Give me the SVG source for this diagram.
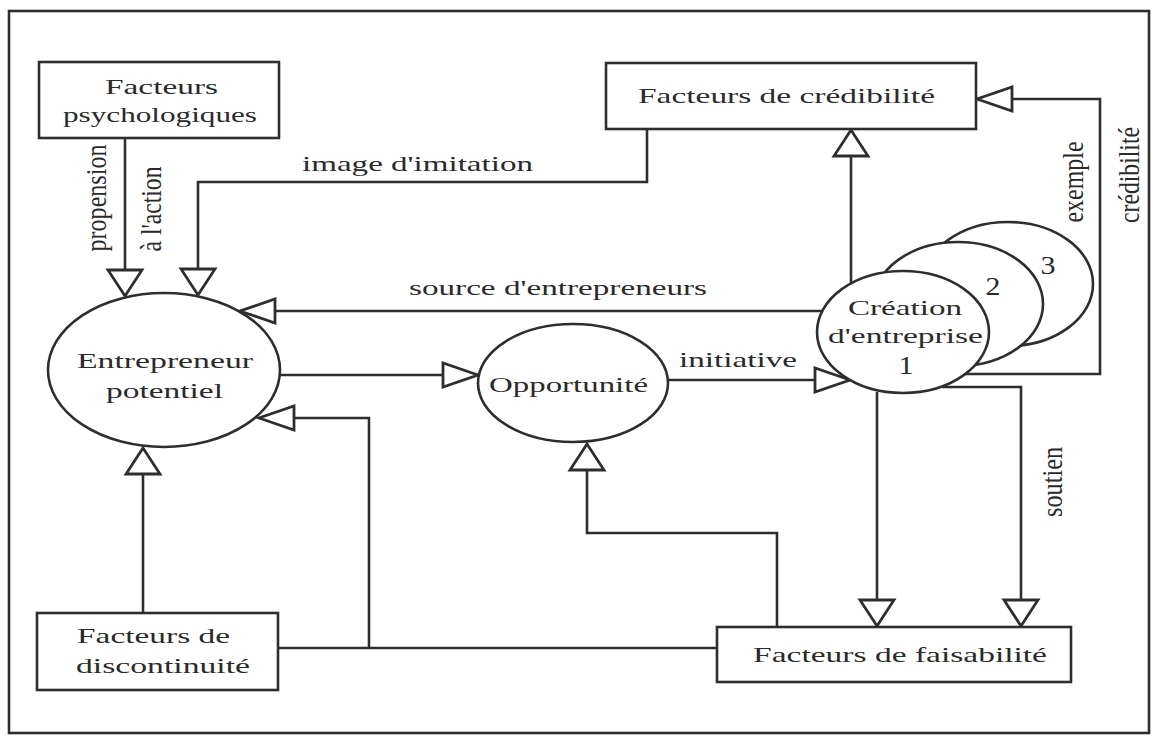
<svg xmlns="http://www.w3.org/2000/svg" width="1153" height="736" viewBox="0 0 1153 736">
<style>
.ln{fill:none;stroke:#2e2e2e;stroke-width:2.6}
.nd{fill:#fff;stroke:#2e2e2e;stroke-width:2.6}
.ah{fill:#fff;stroke:#2e2e2e;stroke-width:2.8;stroke-linejoin:miter}
text{font-family:"Liberation Serif","Times New Roman",serif;font-size:22px;fill:#2a2a2a}
.dg{font-size:25px}
</style>
<defs>
<marker id="mh" markerUnits="userSpaceOnUse" refX="0" refY="0" markerWidth="1" markerHeight="1" orient="auto" style="overflow:visible">
<path class="ah" d="M0,0 L-35,-12 L-35,12 Z"/>
</marker>
<marker id="mv" markerUnits="userSpaceOnUse" refX="0" refY="0" markerWidth="1" markerHeight="1" orient="auto" style="overflow:visible">
<path class="ah" d="M0,0 L-26,-17 L-26,17 Z"/>
</marker>
</defs>
<rect x="0" y="0" width="1153" height="736" fill="#fff"/>
<rect x="9" y="11" width="1140" height="722" class="ln"/>

<g id="connectors">
<path class="ln" d="M125,138 V296" marker-end="url(#mv)"/>
<path class="ln" d="M647,129 V182 H198 V295" marker-end="url(#mv)"/>
<path class="ln" d="M824,311 H240" marker-end="url(#mh)"/>
<path class="ln" d="M280,375 H478" marker-end="url(#mh)"/>
<path class="ln" d="M668,380 H850" marker-end="url(#mh)"/>
<path class="ln" d="M143,613 V448" marker-end="url(#mv)"/>
<path class="ln" d="M278,648 H717"/>
<path class="ln" d="M369,648 V418 H259" marker-end="url(#mh)"/>
<path class="ln" d="M777,627 V533 H587 V444" marker-end="url(#mv)"/>
<path class="ln" d="M877,392 V626" marker-end="url(#mv)"/>
<path class="ln" d="M942,387 H1021 V626" marker-end="url(#mv)"/>
<path class="ln" d="M965,374 H1100 V99 H977" marker-end="url(#mh)"/>
<path class="ln" d="M851,283 V130" marker-end="url(#mv)"/>
</g>

<g id="psychologiques">
<rect class="nd" x="39" y="62" width="240" height="76"/>
<text x="105" y="94" textLength="113" lengthAdjust="spacingAndGlyphs">Facteurs</text>
<text x="63" y="122" textLength="194" lengthAdjust="spacingAndGlyphs">psychologiques</text>
</g>

<g id="credibilite">
<rect class="nd" x="606" y="63" width="370" height="66"/>
<text x="638" y="103" textLength="297" lengthAdjust="spacingAndGlyphs">Facteurs de crédibilité</text>
</g>

<g id="entrepreneur">
<ellipse class="nd" cx="164" cy="370" rx="116" ry="77"/>
<text x="77" y="368" textLength="176" lengthAdjust="spacingAndGlyphs">Entrepreneur</text>
<text x="106" y="398" textLength="117" lengthAdjust="spacingAndGlyphs">potentiel</text>
</g>

<g id="opportunite">
<ellipse class="nd" cx="573" cy="383" rx="95" ry="59"/>
<text x="489" y="392" textLength="159" lengthAdjust="spacingAndGlyphs">Opportunité</text>
</g>

<g id="creation">
<ellipse class="nd" cx="1008" cy="284" rx="85" ry="62"/>
<ellipse class="nd" cx="958" cy="304" rx="85" ry="62"/>
<ellipse class="nd" cx="903" cy="332" rx="86" ry="61"/>
<text class="dg" transform="translate(1048,274) scale(1.2,1)" text-anchor="middle">3</text>
<text class="dg" transform="translate(993,295) scale(1.2,1)" text-anchor="middle">2</text>
<text x="848" y="315" textLength="114" lengthAdjust="spacingAndGlyphs">Création</text>
<text x="828" y="343" textLength="155" lengthAdjust="spacingAndGlyphs">d'entreprise</text>
<text class="dg" transform="translate(906,374) scale(1.2,1)" text-anchor="middle">1</text>
</g>

<g id="discontinuite">
<rect class="nd" x="37" y="613" width="241" height="77"/>
<text x="77" y="643" textLength="153" lengthAdjust="spacingAndGlyphs">Facteurs de</text>
<text x="76" y="673" textLength="174" lengthAdjust="spacingAndGlyphs">discontinuité</text>
</g>

<g id="faisabilite">
<rect class="nd" x="717" y="627" width="354" height="55"/>
<text x="753" y="662" textLength="294" lengthAdjust="spacingAndGlyphs">Facteurs de faisabilité</text>
</g>

<g id="labels">
<text x="302" y="171" textLength="231" lengthAdjust="spacingAndGlyphs">image d'imitation</text>
<text x="409" y="295" textLength="298" lengthAdjust="spacingAndGlyphs">source d'entrepreneurs</text>
<text x="679" y="367" textLength="118" lengthAdjust="spacingAndGlyphs">initiative</text>
<text transform="translate(106,198) scale(1.3,1) rotate(-90)" x="-53.5" y="0" textLength="107" lengthAdjust="spacingAndGlyphs">propension</text>
<text transform="translate(161,209) scale(1.3,1) rotate(-90)" x="-42.5" y="0" textLength="85" lengthAdjust="spacingAndGlyphs">à l'action</text>
<text transform="translate(1083,182) scale(1.3,1) rotate(-90)" x="-40.5" y="0" textLength="81" lengthAdjust="spacingAndGlyphs">exemple</text>
<text transform="translate(1139,175) scale(1.3,1) rotate(-90)" x="-48" y="0" textLength="96" lengthAdjust="spacingAndGlyphs">crédibilité</text>
<text transform="translate(1062,482) scale(1.3,1) rotate(-90)" x="-35" y="0" textLength="70" lengthAdjust="spacingAndGlyphs">soutien</text>
</g>
</svg>
